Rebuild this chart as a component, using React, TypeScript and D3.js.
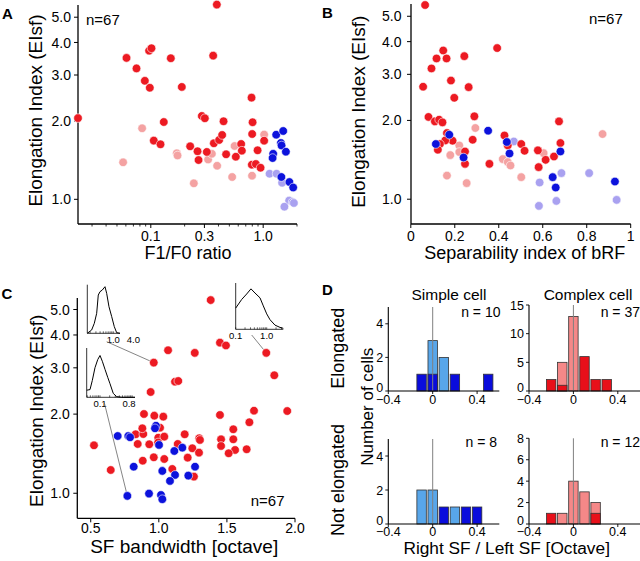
import React from 'react';
import * as d3 from 'd3';

const FONT = '"Liberation Sans", Arial, Helvetica, sans-serif';
const RED = '#ec1a22';
const PINK = '#f4a2a2';
const BLUE = '#0c12dc';
const LAV = '#a9a1f0';
const LBLUE = '#58a6ea';
const DBLUE = '#0a0cdc';
const LRED = '#f58888';
const DRED = '#e8101a';

// ---------- Panel A : F1/F0 ratio vs EIsf ----------
const aRedX = [0.0225, 0.0608, 0.0746, 0.0885, 0.098, 0.0966, 0.1014, 0.1507, 0.1888, 0.359, 0.387, 0.1063, 0.122, 0.1305, 0.224, 0.2605, 0.266, 0.2846, 0.3026, 0.3152, 0.364, 0.4057, 0.4315, 0.444, 0.468, 0.571, 0.637, 0.646, 0.788, 0.805, 0.798, 0.793, 0.861, 0.892, 0.948, 1.02];
const aRedY = [2.05, 3.49, 3.18, 2.85, 2.68, 3.72, 3.8, 3.48, 2.7, 3.56, 5.59, 1.68, 1.626, 1.98, 1.598, 1.529, 1.415, 2.089, 2.047, 1.52, 1.641, 1.69, 1.766, 1.993, 1.489, 1.457, 1.631, 1.537, 2.456, 1.976, 1.781, 1.358, 1.366, 1.542, 1.322, 1.679];
const aPinkX = [0.0567, 0.0837, 0.1704, 0.173, 0.2415, 0.3237, 0.3494, 0.3894, 0.5297, 0.5565, 0.796, 1.02];
const aPinkY = [1.387, 1.874, 1.502, 1.473, 1.152, 1.422, 1.495, 1.345, 1.218, 1.602, 1.232, 1.772];
const aBlueX = [1.306, 1.507, 1.438, 1.458, 1.593, 1.228, 1.213, 1.452, 1.712, 1.85];
const aBlueY = [1.77, 1.829, 1.645, 1.609, 1.523, 1.495, 1.44, 1.218, 1.165, 1.11];
const aLavX = [1.14, 1.316, 1.474, 1.704, 1.827, 1.877, 1.545];
const aLavY = [1.254, 1.254, 1.157, 0.989, 0.976, 0.968, 0.937];

// ---------- Panel B : separability vs EIsf ----------
const bRedX = [0.065, 0.056, 0.094, 0.117, 0.1475, 0.1626, 0.1826, 0.1977, 0.2434, 0.263, 0.3927, 0.289, 0.0804, 0.1096, 0.129, 0.144, 0.1644, 0.19, 0.1566, 0.1324, 0.123, 0.2466, 0.2466, 0.2813, 0.3575, 0.426, 0.441, 0.5023, 0.5174, 0.578, 0.5813, 0.6132, 0.6511, 0.674, 0.6804];
const bRedY = [5.52, 2.69, 3.16, 3.45, 3.7, 3.45, 2.84, 2.44, 3.52, 2.68, 3.78, 2.073, 2.062, 1.983, 2.013, 1.966, 1.79, 1.673, 1.677, 1.625, 1.545, 1.522, 1.365, 1.687, 1.365, 1.752, 1.605, 1.625, 1.531, 1.537, 1.326, 1.414, 1.456, 1.983, 1.639];
const bPinkX = [0.2936, 0.2205, 0.2205, 0.1795, 0.1644, 0.254, 0.4183, 0.441, 0.4534, 0.5023, 0.604, 0.872];
const bPinkY = [1.871, 1.605, 1.514, 1.474, 1.231, 1.152, 1.423, 1.386, 1.345, 1.214, 1.5, 1.774];
const bBlueX = [0.114, 0.175, 0.24, 0.3516, 0.4367, 0.4489, 0.6804, 0.6452, 0.659, 0.9283];
const bBlueY = [1.625, 1.764, 1.443, 1.827, 1.654, 1.495, 1.522, 1.214, 1.108, 1.168];
const bLavX = [0.4685, 0.5858, 0.5826, 0.662, 0.685, 0.811, 0.936];
const bLavY = [1.662, 1.158, 0.943, 0.985, 1.258, 1.258, 0.994];

// ---------- Panel C : SF bandwidth vs EIsf ----------
const cRedX = [1.381, 1.068, 1.264, 1.449, 1.493, 1.789, 0.963, 1.119, 1.143, 1.848, 0.94, 1.943, 1.699, 1.665, 1.547, 1.449, 1.457, 1.457, 1.547, 1.56, 1.513, 1.645, 0.524, 0.647, 0.891, 0.967, 1.033, 0.83, 0.886, 0.879, 0.845, 0.93, 1.009, 0.996, 1.04, 0.995, 0.963, 0.882, 1.04, 1.139, 1.246, 1.297, 1.295, 1.212, 1.099, 1.258, 1.19, 1.302];
const cRedY = [5.43, 3.5, 3.42, 3.74, 3.65, 3.42, 3.14, 2.657, 2.673, 2.81, 2.427, 2.055, 2.061, 1.862, 1.751, 1.985, 1.604, 1.513, 1.604, 1.461, 1.419, 1.47, 1.522, 1.226, 2.002, 1.973, 1.956, 1.676, 1.68, 1.766, 1.54, 1.536, 1.776, 1.627, 1.642, 1.56, 1.37, 1.33, 1.35, 1.54, 1.483, 1.619, 1.427, 1.366, 1.237, 1.157, 1.676, 1.595];
const cBlueX = [0.698, 0.776, 0.789, 0.979, 0.972, 1.0015, 1.1726, 1.1138, 0.8157, 1.0257, 1.119, 1.082, 1.266, 1.2166, 0.769, 0.928, 1.016, 1.0257];
const cBlueY = [1.651, 1.651, 1.633, 1.807, 1.766, 1.527, 1.491, 1.448, 1.262, 1.216, 1.174, 1.114, 1.262, 1.167, 0.977, 0.997, 0.985, 0.949];

// insets of panel C (SF tuning curves, normalized response)
const in1X = [0.165, 0.223, 0.268, 0.316, 0.353, 0.398, 0.467, 0.562, 0.632, 0.741, 0.895, 1.07, 1.26, 1.59];
const in1Y = [0, 0.071, 0.214, 0.429, 0.821, 0.893, 0.929, 1.0, 0.857, 0.571, 0.357, 0.143, 0.014, 0];
const in2X = [0.0385, 0.0488, 0.0575, 0.0698, 0.0848, 0.1, 0.118, 0.143, 0.174, 0.205, 0.259, 0.331, 0.474, 1.23];
const in2Y = [0.15, 0.163, 0.354, 0.626, 0.796, 0.884, 0.762, 0.592, 0.422, 0.286, 0.082, 0.014, 0, 0];
const in3X = [0.1, 0.156, 0.226, 0.311, 0.419, 0.608, 0.777, 1.0, 1.276, 1.853, 2.685, 3.43];
const in3Y = [0.478, 0.674, 0.797, 0.913, 0.819, 0.71, 0.529, 0.348, 0.217, 0.094, 0.043, 0.022];

// ---------- Panel D : histograms ----------
const seLightX = [0, 0.1];
const seLightN = [3, 2];
const seDarkX = [-0.1, 0, 0.2, 0.5];
const seDarkN = [1, 1, 1, 1];
const ceLightX = [-0.1, 0];
const ceLightN = [5, 13];
const ceDarkX = [-0.2, -0.1, 0.1, 0.2, 0.3];
const ceDarkN = [2, 1, 6, 2, 2];
const snLightX = [-0.1, 0, 0.2];
const snLightN = [2, 2, 1];
const snDarkX = [0.1, 0.3, 0.4];
const snDarkN = [1, 1, 1];
const cnLightX = [-0.1, 0, 0.1, 0.2];
const cnLightN = [1, 4, 3, 2];
const cnDarkX = [-0.2, 0.2];
const cnDarkN = [1, 1];

const eiTicks = [1, 2, 3, 4, 5];

function Dots({ xs, ys, X, Y, color }: any) {
  return (
    <g>
      {X.map((v: number, i: number) => (
        <circle key={i} cx={xs(v)} cy={ys(Y[i])} r={4.3} fill={color} stroke="#fff" strokeWidth={0.6} />
      ))}
    </g>
  );
}

function LogYAxis({ ys, x, top, bottom, gap }: any) {
  return (
    <g>
      <line x1={x} x2={x} y1={top} y2={bottom} stroke="#000" strokeWidth={1.3} />
      {eiTicks.map((t) => (
        <g key={t}>
          <line x1={x - 4} x2={x} y1={ys(t)} y2={ys(t)} stroke="#000" strokeWidth={1} />
          <text x={x - gap} y={ys(t)} dy="0.36em" textAnchor="end" fontSize={14}>{t.toFixed(1)}</text>
        </g>
      ))}
    </g>
  );
}

function YLabel({ x, y, size }: any) {
  return (
    <text transform={`translate(${x},${y}) rotate(-90)`} textAnchor="middle" fontSize={size}>Elongation Index (EIsf)</text>
  );
}

function PanelA() {
  const xs = d3.scaleLog().domain([0.0225, 2.0]).range([78, 297]);
  const ys = d3.scaleLog().domain([0.804, 5.57]).range([224, 5]);
  const major = [0.1, 0.3, 1.0];
  const minor = [0.03, 0.04, 0.05, 0.06, 0.07, 0.08, 0.09, 0.2, 0.4, 0.5, 0.6, 0.7, 0.8, 0.9, 2.0];
  return (
    <g>
      <text x={2} y={18.5} fontSize={15} fontWeight="bold">A</text>
      <LogYAxis ys={ys} x={78} top={5} bottom={224} gap={7} />
      <line x1={78} x2={297} y1={224} y2={224} stroke="#000" strokeWidth={1.3} />
      {minor.map((t) => (
        <line key={t} x1={xs(t)} x2={xs(t)} y1={224} y2={226.5} stroke="#000" strokeWidth={0.8} />
      ))}
      {major.map((t) => (
        <g key={t}>
          <line x1={xs(t)} x2={xs(t)} y1={224} y2={228} stroke="#000" strokeWidth={1} />
          <text x={xs(t)} y={240.5} textAnchor="middle" fontSize={14}>{t.toFixed(1)}</text>
        </g>
      ))}
      <text x={188} y={258.5} textAnchor="middle" fontSize={18}>F1/F0 ratio</text>
      <YLabel x={42} y={110.5} size={19} />
      <text x={86} y={25} fontSize={15}>n=67</text>
      <Dots xs={xs} ys={ys} X={aPinkX} Y={aPinkY} color={PINK} />
      <Dots xs={xs} ys={ys} X={aLavX} Y={aLavY} color={LAV} />
      <Dots xs={xs} ys={ys} X={aRedX} Y={aRedY} color={RED} />
      <Dots xs={xs} ys={ys} X={aBlueX} Y={aBlueY} color={BLUE} />
    </g>
  );
}

function PanelB() {
  const xs = d3.scaleLinear().domain([0, 1]).range([410.8, 630.7]);
  const ys = d3.scaleLog().domain([0.804, 5.57]).range([224, 4]);
  const ticks = [0, 0.2, 0.4, 0.6, 0.8, 1];
  return (
    <g>
      <text x={322} y={18.3} fontSize={15} fontWeight="bold">B</text>
      <LogYAxis ys={ys} x={411} top={4} bottom={224} gap={9.5} />
      <line x1={411} x2={630.7} y1={224} y2={224} stroke="#000" strokeWidth={1.3} />
      {ticks.map((t) => (
        <g key={t}>
          <line x1={xs(t)} x2={xs(t)} y1={224} y2={228} stroke="#000" strokeWidth={1} />
          <text x={xs(t)} y={240.5} textAnchor="middle" fontSize={14}>{t === 0 || t === 1 ? String(t) : t.toFixed(1)}</text>
        </g>
      ))}
      <text x={524.7} y={258.5} textAnchor="middle" fontSize={18}>Separability index of bRF</text>
      <YLabel x={365} y={111.7} size={19} />
      <text x={589} y={24} fontSize={15}>n=67</text>
      <Dots xs={xs} ys={ys} X={bPinkX} Y={bPinkY} color={PINK} />
      <Dots xs={xs} ys={ys} X={bLavX} Y={bLavY} color={LAV} />
      <Dots xs={xs} ys={ys} X={bRedX} Y={bRedY} color={RED} />
      <Dots xs={xs} ys={ys} X={bBlueX} Y={bBlueY} color={BLUE} />
    </g>
  );
}

function Inset({ x0, x1, yb, yt, domain, X, Y, labels }: any) {
  const xs = d3.scaleLog().domain(domain).range([x0, x1]);
  const ys = d3.scaleLinear().domain([0, 1]).range([yb, yt]);
  const line = d3.line<number>().x((d: number) => xs(d)).y((_d: number, i: number) => ys(Y[i]));
  const minor = xs.ticks().filter((t: number) => t >= domain[0] && t <= domain[1]);
  return (
    <g>
      <line x1={x0} x2={x0} y1={yb} y2={yt - 2} stroke="#000" strokeWidth={0.8} />
      <line x1={x0} x2={x1} y1={yb} y2={yb} stroke="#000" strokeWidth={0.8} />
      {minor.map((t: number, i: number) => (
        <line key={i} x1={xs(t)} x2={xs(t)} y1={yb} y2={yb - 2} stroke="#000" strokeWidth={0.6} />
      ))}
      <path d={line(X) || ''} fill="none" stroke="#000" strokeWidth={1} />
      {labels.map((t: number) => (
        <text key={t} x={xs(t)} y={yb + 10} textAnchor="middle" fontSize={9.5}>{t.toFixed(1)}</text>
      ))}
    </g>
  );
}

function PanelC() {
  const xs = d3.scaleLinear().domain([0.4, 2.0]).range([77.1, 295]);
  const ys = d3.scaleLog().domain([0.803, 5.53]).range([518.3, 298]);
  const ticks = [0.5, 1.0, 1.5, 2.0];
  const conn = [
    { ax: 106.7, ay: 341.7, x: cRedX[6], y: cRedY[6] },
    { ax: 251.7, ay: 335, x: cRedX[5], y: cRedY[5] },
    { ax: 104.3, ay: 402.7, x: cBlueX[14], y: cBlueY[14] },
  ];
  return (
    <g>
      <text x={1.5} y={298.5} fontSize={15} fontWeight="bold">C</text>
      <LogYAxis ys={ys} x={77.3} top={298} bottom={518.3} gap={7.5} />
      <line x1={77.3} x2={295} y1={518.3} y2={518.3} stroke="#000" strokeWidth={1.3} />
      {ticks.map((t) => (
        <g key={t}>
          <line x1={xs(t)} x2={xs(t)} y1={518.3} y2={522.3} stroke="#000" strokeWidth={1} />
          <text x={xs(t)} y={533} textAnchor="middle" fontSize={14}>{t.toFixed(1)}</text>
        </g>
      ))}
      <text x={184.2} y={552.5} textAnchor="middle" fontSize={19}>SF bandwidth [octave]</text>
      <YLabel x={42.5} y={410.8} size={19} />
      <text x={250.7} y={506} fontSize={15}>n=67</text>
      <Inset x0={87.3} x1={120} yb={333.3} yt={286.7} domain={[0.165, 1.59]} X={in1X} Y={in1Y} labels={[1.0, 4.0]} />
      <Inset x0={86.7} x1={135} yb={397.3} yt={350} domain={[0.0385, 1.23]} X={in2X} Y={in2Y} labels={[0.1, 0.8]} />
      <Inset x0={235.7} x1={283.3} yb={329.3} yt={285} domain={[0.1, 3.43]} X={in3X} Y={in3Y} labels={[0.1, 1.0]} />
      {conn.map((c, i) => (
        <line key={i} x1={c.ax} y1={c.ay} x2={xs(c.x)} y2={ys(c.y)} stroke="#666" strokeWidth={0.8} />
      ))}
      <Dots xs={xs} ys={ys} X={cRedX} Y={cRedY} color={RED} />
      <Dots xs={xs} ys={ys} X={cBlueX} Y={cBlueY} color={BLUE} />
    </g>
  );
}

function Hist({ ax, y0, yTop, yMax, yTicks, lx, ln, dx, dn, lc, dc, n, nx, ny, lblOff }: any) {
  const xs = d3.scaleLinear().domain([-0.4, 0.6]).range([ax, ax + 111]);
  const ys = d3.scaleLinear().domain([0, yMax]).range([y0, yTop]);
  const bw = xs(0.085) - xs(0);
  const xt = [-0.4, 0, 0.4];
  return (
    <g>
      {lx.map((v: number, i: number) => (
        <rect key={'l' + i} x={xs(v) - bw / 2} y={ys(ln[i])} width={bw} height={y0 - ys(ln[i])} fill={lc} stroke="#333" strokeWidth={0.8} />
      ))}
      {dx.map((v: number, i: number) => (
        <rect key={'d' + i} x={xs(v) - bw / 2} y={ys(dn[i])} width={bw} height={y0 - ys(dn[i])} fill={dc} stroke="#333" strokeWidth={0.8} />
      ))}
      <line x1={xs(0)} x2={xs(0)} y1={y0} y2={yTop} stroke="#808080" strokeWidth={1} />
      <line x1={ax} x2={ax} y1={y0} y2={yTop} stroke="#000" strokeWidth={1.1} />
      <line x1={ax} x2={xs(0.6)} y1={y0} y2={y0} stroke="#000" strokeWidth={1.1} />
      {yTicks.map((t: number) => (
        <g key={t}>
          <line x1={ax - 3} x2={ax} y1={ys(t)} y2={ys(t)} stroke="#000" strokeWidth={0.9} />
          <text x={ax - 5} y={ys(t) - (t === 0 ? 3.5 : 0)} dy="0.36em" textAnchor="end" fontSize={12.5}>{t}</text>
        </g>
      ))}
      {xt.map((t) => (
        <g key={t}>
          <line x1={xs(t)} x2={xs(t)} y1={y0} y2={y0 + 3} stroke="#000" strokeWidth={0.9} />
          <text x={xs(t)} y={y0 + lblOff} textAnchor="middle" fontSize={12.5}>{t < 0 ? '\u2212' + Math.abs(t).toFixed(1) : t === 0 ? '0' : t.toFixed(1)}</text>
        </g>
      ))}
      <text x={nx} y={ny} textAnchor="end" fontSize={14}>{`n = ${n}`}</text>
    </g>
  );
}

function PanelD() {
  return (
    <g>
      <text x={322} y={295} fontSize={15} fontWeight="bold">D</text>
      <text x={449} y={300} textAnchor="middle" fontSize={15.5}>Simple cell</text>
      <text x={588} y={300} textAnchor="middle" fontSize={15.5}>Complex cell</text>
      <text transform="translate(344,348.3) rotate(-90)" textAnchor="middle" fontSize={18}>Elongated</text>
      <text transform="translate(344,480) rotate(-90)" textAnchor="middle" fontSize={18}>Not elongated</text>
      <text transform="translate(373,406.7) rotate(-90)" textAnchor="middle" fontSize={17}>Number of cells</text>
      <Hist ax={388.3} y0={391} yTop={307} yMax={5} yTicks={[0, 2, 4]} lx={seLightX} ln={seLightN} dx={seDarkX} dn={seDarkN} lc={LBLUE} dc={DBLUE} n={10} nx={500.5} ny={317} lblOff={13} />
      <Hist ax={529} y0={391} yTop={305} yMax={15} yTicks={[0, 5, 10, 15]} lx={ceLightX} ln={ceLightN} dx={ceDarkX} dn={ceDarkN} lc={LRED} dc={DRED} n={37} nx={640} ny={317} lblOff={13} />
      <Hist ax={388.3} y0={524} yTop={439} yMax={5} yTicks={[0, 2, 4]} lx={snLightX} ln={snLightN} dx={snDarkX} dn={snDarkN} lc={LBLUE} dc={DBLUE} n={8} nx={497} ny={447.3} lblOff={12} />
      <Hist ax={529} y0={524} yTop={438.3} yMax={8} yTicks={[0, 2, 4, 6, 8]} lx={cnLightX} ln={cnLightN} dx={cnDarkX} dn={cnDarkN} lc={LRED} dc={DRED} n={12} nx={640} ny={447.3} lblOff={12} />
      <text x={506.7} y={553.5} textAnchor="middle" fontSize={17.3}>Right SF / Left SF [Octave]</text>
    </g>
  );
}

export default function App() {
  return (
    <svg width={640} height={561} style={{ position: 'absolute', left: 0, top: 0, background: '#fff' }} fontFamily={FONT}>
      <rect width={640} height={561} fill="#fff" />
      <PanelA />
      <PanelB />
      <PanelC />
      <PanelD />
    </svg>
  );
}
